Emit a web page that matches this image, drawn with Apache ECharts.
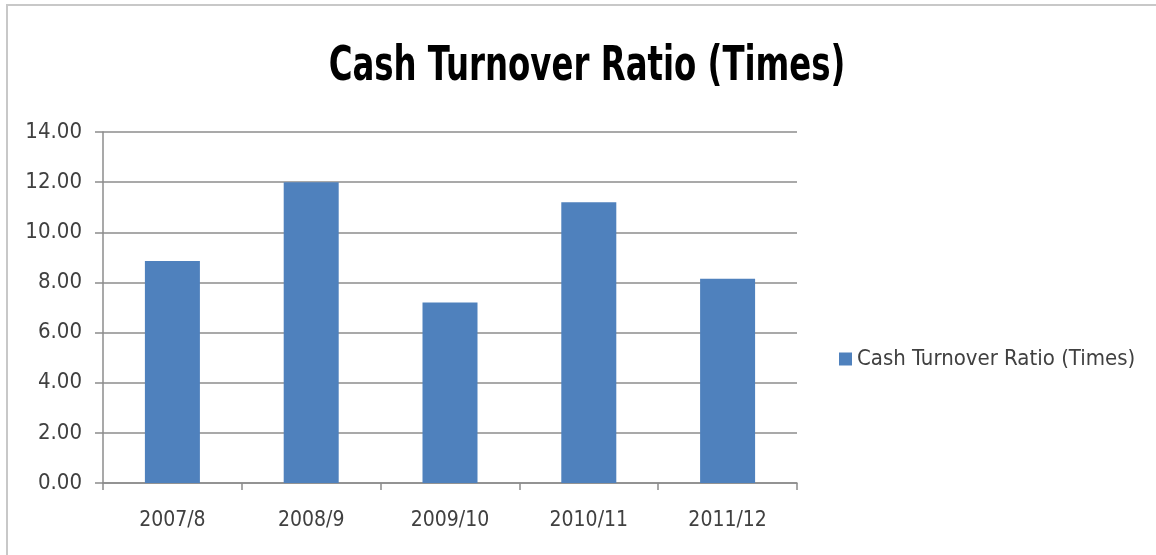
<!DOCTYPE html>
<html>
<head>
<meta charset="utf-8">
<script src="https://cdn.jsdelivr.net/npm/echarts@6/dist/echarts.min.js"></script>
<style>
  html, body { margin: 0; padding: 0; background: #ffffff; }
  #chart { width: 1156px; height: 555px; }
</style>
</head>
<body>
<div id="chart"></div>
<script>
// Cash turnover ratio by fiscal year
const years = ['2007/8', '2008/9', '2009/10', '2010/11', '2011/12'];
const cashTurnover = [8.85, 12.0, 7.2, 11.2, 8.15];
const seriesName = 'Cash Turnover Ratio (Times)';
const titleText = 'Cash Turnover Ratio (Times)';

const fontFamily = '"Liberation Sans Narrow", "DejaVu Sans Condensed", "Open Sans", sans-serif';

const chart = echarts.init(document.getElementById('chart'), null, { renderer: 'canvas' });

chart.setOption({
  backgroundColor: '#ffffff',
  animation: false,
  legend: {
    data: [seriesName],
    left: 834,
    top: 343,
    orient: 'vertical',
    icon: 'rect',
    itemWidth: 13,
    itemHeight: 13,
    itemGap: 6,
    textStyle: {
      fontFamily: fontFamily,
      fontSize: 22,
      color: '#404040'
    }
  },
  grid: {
    left: 103,
    right: 359,
    top: 132,
    bottom: 72,
    containLabel: false
  },
  xAxis: {
    type: 'category',
    data: years,
    axisLine: { show: true, lineStyle: { color: '#8c8c8c', width: 1.5 } },
    axisTick: { show: true, length: 7, alignWithLabel: false, lineStyle: { color: '#8c8c8c', width: 1.5 } },
    axisLabel: {
      margin: 27,
      fontFamily: fontFamily,
      fontSize: 21,
      color: '#404040'
    }
  },
  yAxis: {
    type: 'value',
    min: 0,
    max: 14,
    interval: 2,
    axisLine: { show: true, lineStyle: { color: '#8c8c8c', width: 1.5 } },
    axisTick: { show: true, length: 8, lineStyle: { color: '#8c8c8c', width: 1.5 } },
    splitLine: { show: true, lineStyle: { color: '#8c8c8c', width: 1.5 } },
    axisLabel: {
      margin: 21,
      fontFamily: fontFamily,
      fontSize: 22,
      color: '#404040',
      formatter: v => v.toFixed(2)
    }
  },
  series: [{
    name: seriesName,
    type: 'bar',
    data: cashTurnover,
    barWidth: 55,
    itemStyle: { color: '#4f81bd' }
  }],
  graphic: [
    {
      // outer chart frame
      type: 'rect',
      x: 7,
      y: 5,
      shape: { width: 1200, height: 600 },
      style: { fill: 'none', stroke: '#c8c8c8', lineWidth: 2 },
      silent: true,
      z: -1
    },
    {
      // condensed bold title
      type: 'text',
      x: 587,
      y: 68,
      scaleX: 0.75,
      style: {
        text: titleText,
        fontFamily: fontFamily,
        fontWeight: 'bold',
        fontSize: 48,
        fill: '#000000',
        textAlign: 'center',
        textVerticalAlign: 'middle'
      },
      silent: true
    }
  ]
});
</script>
</body>
</html>
